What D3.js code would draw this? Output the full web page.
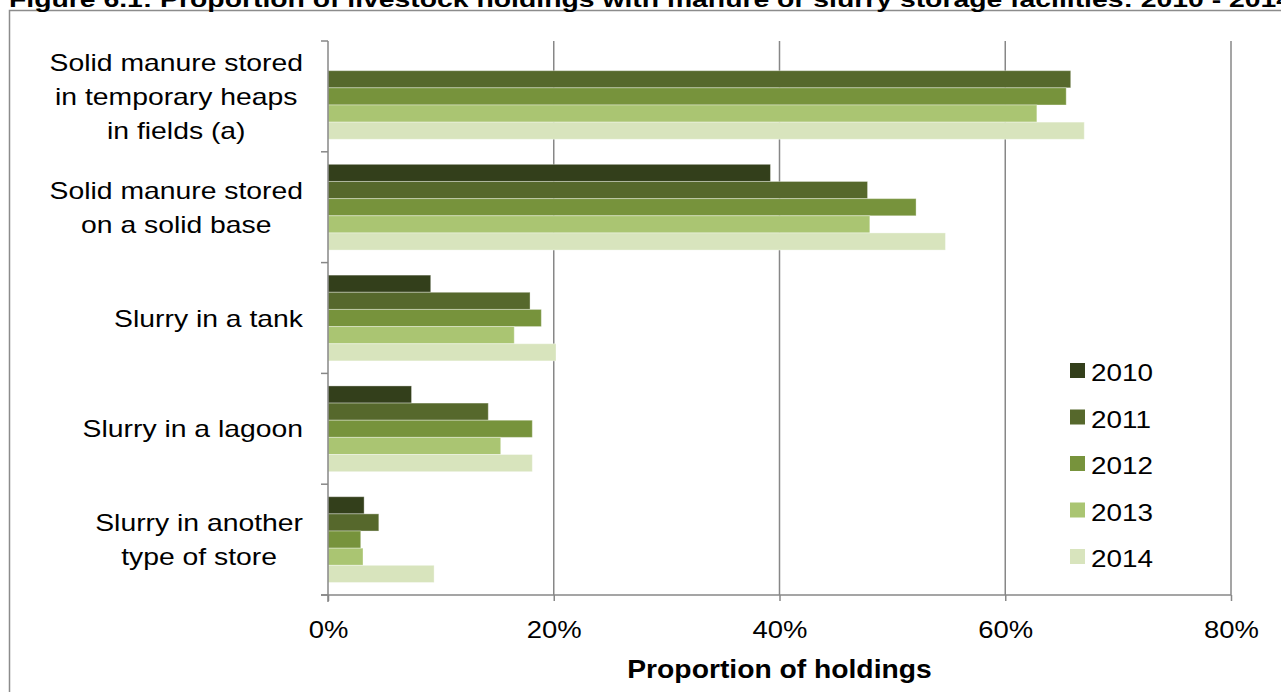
<!DOCTYPE html>
<html>
<head>
<meta charset="utf-8">
<script src="https://cdn.jsdelivr.net/npm/d3@7"></script>
<style>
  body { margin: 0; background: #fff; }
  svg { display: block; font-family: "Liberation Sans", Arial, sans-serif; }
</style>
</head>
<body>
<svg id="chart" width="1281" height="692"></svg>
<script>
// categories (top to bottom) and their label lines
const categories = ['heaps', 'base', 'tank', 'lagoon', 'other'];
const categoryLabels = [
    ['Solid manure stored', 'in temporary heaps', 'in fields (a)'],
    ['Solid manure stored', 'on a solid base'],
    ['Slurry in a tank'],
    ['Slurry in a lagoon'],
    ['Slurry in another', 'type of store']
];
const years = ['2010', '2011', '2012', '2013', '2014'];
const yearColors = ['#333f1b', '#56682c', '#77933c', '#aac572', '#d8e4bd'];

// proportion of holdings, per year, in category order (null = no data)
const values2010 = [null, 0.392, 0.091, 0.074, 0.032];
const values2011 = [0.658, 0.478, 0.179, 0.142, 0.045];
const values2012 = [0.654, 0.521, 0.189, 0.181, 0.029];
const values2013 = [0.628, 0.480, 0.165, 0.153, 0.031];
const values2014 = [0.670, 0.547, 0.202, 0.181, 0.094];
const seriesValues = [values2010, values2011, values2012, values2013, values2014];

const xTicks = [0, 0.2, 0.4, 0.6, 0.8];
const titleText = 'Figure 6.1: Proportion of livestock holdings with manure or slurry storage facilities: 2010 - 2014';
const xTitle = 'Proportion of holdings';

const svg = d3.select('#chart');
const plotLeft = 328, plotRight = 1231, plotTop = 41, plotBottom = 595;

function stretch(sel, k) {
    sel.each(function() {
        const len = this.getComputedTextLength();
        d3.select(this).attr('textLength', len * k).attr('lengthAdjust', 'spacingAndGlyphs');
    });
}

// outer frame of the chart
svg.append('rect')
    .attr('x', 9.5).attr('y', 10.5)
    .attr('width', 1300).attr('height', 700)
    .attr('fill', 'none').attr('stroke', '#8c8c8c').attr('stroke-width', 1.5);

// title (cut at top like the reference)
const title = svg.append('text')
    .attr('x', 9).attr('y', 7)
    .attr('font-size', 22).attr('font-weight', 'bold')
    .text(titleText);
title.attr('textLength', 1283).attr('lengthAdjust', 'spacingAndGlyphs');

const x = d3.scaleLinear().domain([0, 0.8]).range([plotLeft, plotRight]);
const y0 = d3.scaleBand().domain(categories).range([plotTop, plotBottom]);
const y1 = d3.scaleBand().domain(years).range([0, y0.step()]).paddingOuter(0.73);

// vertical gridlines
svg.append('g')
    .selectAll('line')
    .data(xTicks.slice(1))
    .enter()
    .append('line')
    .attr('x1', d => x(d)).attr('x2', d => x(d))
    .attr('y1', plotTop).attr('y2', plotBottom)
    .attr('stroke', '#878787').attr('stroke-width', 1.5);

// bars
const bars = svg.append('g');
years.forEach((yr, i) => {
    bars.append('g')
        .selectAll('rect')
        .data(categories.map((c, j) => ({ cat: c, v: seriesValues[i][j] })).filter(d => d.v != null))
        .enter()
        .append('rect')
        .attr('x', x(0))
        .attr('y', d => y0(d.cat) + y1(yr))
        .attr('width', d => x(d.v) - x(0))
        .attr('height', y1.bandwidth())
        .attr('fill', yearColors[i])
        .attr('stroke', 'rgba(255,255,255,0.35)')
        .attr('stroke-width', 1);
});

// y axis with ticks between categories
const yTickPos = categories.map(c => y0(c)).concat([plotBottom]);
svg.append('line')
    .attr('x1', plotLeft).attr('x2', plotLeft).attr('y1', plotTop).attr('y2', plotBottom + 7)
    .attr('stroke', '#878787').attr('stroke-width', 1.5);
svg.append('g')
    .selectAll('line')
    .data(yTickPos)
    .enter()
    .append('line')
    .attr('x1', plotLeft - 7).attr('x2', plotLeft)
    .attr('y1', d => d).attr('y2', d => d)
    .attr('stroke', '#878787').attr('stroke-width', 1.5);

// x axis
const xAxis = d3.axisBottom(x)
    .tickValues(xTicks)
    .tickFormat(d3.format('.0%'))
    .tickSize(6)
    .tickSizeOuter(0);
const gx = svg.append('g')
    .attr('transform', `translate(0,${plotBottom})`)
    .call(xAxis);
gx.select('.domain').remove();
gx.selectAll('.tick line').attr('stroke', '#878787').attr('stroke-width', 1.5);
gx.selectAll('.tick text')
    .attr('font-size', 24.5)
    .attr('font-family', '"Liberation Sans", Arial, sans-serif')
    .attr('fill', '#000')
    .attr('dy', null)
    .attr('y', 43);
stretch(gx.selectAll('.tick text'), 1.12);
svg.append('line')
    .attr('x1', plotLeft - 7).attr('x2', plotRight)
    .attr('y1', plotBottom).attr('y2', plotBottom)
    .attr('stroke', '#878787').attr('stroke-width', 1.5);

// x axis title
const xt = svg.append('text')
    .attr('x', (plotLeft + plotRight) / 2).attr('y', 678)
    .attr('text-anchor', 'middle')
    .attr('font-size', 25).attr('font-weight', 'bold')
    .text(xTitle);
stretch(xt, 1.13);

// category labels: lines centred on each other, block right-aligned
const lineGap = 34;
categoryLabels.forEach((lines, j) => {
    const cy = y0(categories[j]) + y0.step() / 2;
    const firstBase = cy - (lines.length - 1) * lineGap / 2 + 8.5;
    const g = svg.append('g');
    const texts = g.selectAll('text')
        .data(lines)
        .enter()
        .append('text')
        .attr('y', (d, k) => firstBase + k * lineGap)
        .attr('text-anchor', 'middle')
        .attr('font-size', 24)
        .attr('fill', '#000')
        .text(d => d);
    let maxW = 0;
    texts.each(function() { maxW = Math.max(maxW, this.getComputedTextLength() * 1.18); });
    stretch(texts, 1.18);
    texts.attr('x', 303 - maxW / 2);
});

// legend
const legend = svg.append('g');
years.forEach((yr, i) => {
    const ly = 363 + i * 46.5;
    legend.append('rect')
        .attr('x', 1070).attr('y', ly)
        .attr('width', 15).attr('height', 15)
        .attr('fill', yearColors[i]);
    const t = legend.append('text')
        .attr('x', 1091).attr('y', ly + 18)
        .attr('font-size', 24)
        .attr('fill', '#000')
        .text(yr);
    stretch(t, 1.16);
});
</script>
</body>
</html>
